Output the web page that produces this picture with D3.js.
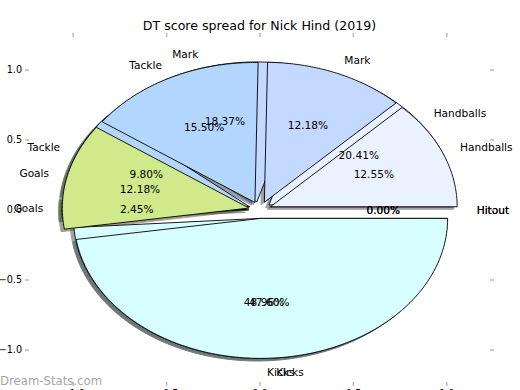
<!DOCTYPE html>
<html><head><meta charset="utf-8">
<script src="https://cdn.jsdelivr.net/npm/d3@7"></script>
<style>body{margin:0;background:#fff}svg{display:block}text{font-family:"DejaVu Sans",sans-serif}</style>
</head><body><svg id="c" width="520" height="390"></svg>
<script>
const categories = ["Handballs","Mark","Tackle","Goals","Kicks","Hitout"];
const valuesA = [20.41, 18.37, 9.80, 2.45, 48.96, 0.00];
const valuesB = [12.55, 12.18, 15.50, 12.18, 47.60, 0.00];
const colors = ["#eaf1ff","#c4d9ff","#b3d6ff","#cfe98b","#d8ffff","#ffd8d8"];
const xTicks = [-1.0,-0.5,0.0,0.5,1.0];
const yTicks = [-1.0,-0.5,0.0,0.5,1.0];
const title = "DT score spread for Nick Hind (2019)";

const svg = d3.select("#c");
const x = d3.scaleLinear().domain([-1.25,1.25]).range([26.5,493.5]);
const y = d3.scaleLinear().domain([-1.25,1.25]).range([385,35]);
const explode = 0.06, labelDist = 1.1, pctDist = 0.6, shadowOff = -0.018;
const fmt = v => v.toFixed(2) + "%";

function wedges(vals){
  const tot = d3.sum(vals); let a = 0;
  return vals.map((v,i)=>{
    const a0 = a, a1 = a + 2*Math.PI*v/tot; a = a1;
    const m = (a0+a1)/2;
    return {i, v, pct: 100*v/tot, a0, a1, m, cx: explode*Math.cos(m), cy: explode*Math.sin(m)};
  });
}
function wedgePath(w, off){
  const pts = [[w.cx+off, w.cy+off]];
  const n = Math.max(2, Math.ceil((w.a1-w.a0)/0.01));
  for(let k=0;k<=n;k++){const t=w.a0+(w.a1-w.a0)*k/n; pts.push([w.cx+off+Math.cos(t), w.cy+off+Math.sin(t)]);}
  return d3.line().x(d=>x(d[0])).y(d=>y(d[1]))(pts) + "Z";
}
const pies = [wedges(valuesA), wedges(valuesB)];

// shadows (below all wedges)
const gS = svg.append("g");
pies.forEach(p=>p.filter(w=>w.v>0).forEach(w=>{
  const c = d3.rgb(colors[w.i]);
  const sc = d3.rgb(c.r*0.3,c.g*0.3,c.b*0.3);
  gS.append("path").attr("d", wedgePath(w, shadowOff)).attr("fill", sc).attr("stroke", sc)
    .attr("stroke-width",1).attr("opacity",0.5);
}));
// wedges
const gW = svg.append("g");
pies.forEach(p=>p.filter(w=>w.v>0).forEach(w=>{
  gW.append("path").attr("d", wedgePath(w, 0)).attr("fill", colors[w.i]).attr("stroke","#000")
    .attr("stroke-width",0.9).attr("stroke-linejoin","miter");
}));
// texts
const gT = svg.append("g").attr("font-size","10.6px").attr("fill","#000");
pies.forEach(p=>p.forEach(w=>{
  const lx = w.cx + labelDist*Math.cos(w.m), ly = w.cy + labelDist*Math.sin(w.m);
  gT.append("text").attr("x", x(lx)).attr("y", y(ly)).attr("dy","0.36em")
    .attr("text-anchor", lx>0 ? "start" : "end").text(categories[w.i]);
  const px = w.cx + pctDist*Math.cos(w.m), py = w.cy + pctDist*Math.sin(w.m);
  gT.append("text").attr("x", x(px)).attr("y", y(py)).attr("dy","0.36em")
    .attr("text-anchor","middle").text(fmt(w.pct));
}));

// ticks
const gA = svg.append("g").attr("stroke","#bbb").attr("stroke-width",1.5);
xTicks.forEach(t=>{
  gA.append("line").attr("x1",x(t)).attr("x2",x(t)).attr("y1",33).attr("y2",37);
  gA.append("line").attr("x1",x(t)).attr("x2",x(t)).attr("y1",382).attr("y2",386);
});
yTicks.forEach(t=>{
  gA.append("line").attr("x1",25).attr("x2",29).attr("y1",y(t)).attr("y2",y(t));
  gA.append("line").attr("x1",490).attr("x2",494).attr("y1",y(t)).attr("y2",y(t));
});
const tf = t => (t<0?"\u2212":"") + Math.abs(t).toFixed(1);
svg.append("g").attr("font-size","9.6px").selectAll("text").data(yTicks).join("text")
  .attr("x",22).attr("y",d=>y(d)).attr("dy","0.36em").attr("text-anchor","end").text(tf);
svg.append("g").attr("font-size","9.6px").selectAll("text").data(xTicks).join("text")
  .attr("x",d=>x(d)).attr("y",397).attr("text-anchor","middle").text(tf);

svg.append("text").attr("x",259.5).attr("y",30).attr("text-anchor","middle").attr("font-size","12.6px").text(title);
svg.append("text").attr("x",0).attr("y",385).attr("font-size","11.7px").attr("fill","#a6a6a6").text("Dream-Stats.com");
</script></body></html>
